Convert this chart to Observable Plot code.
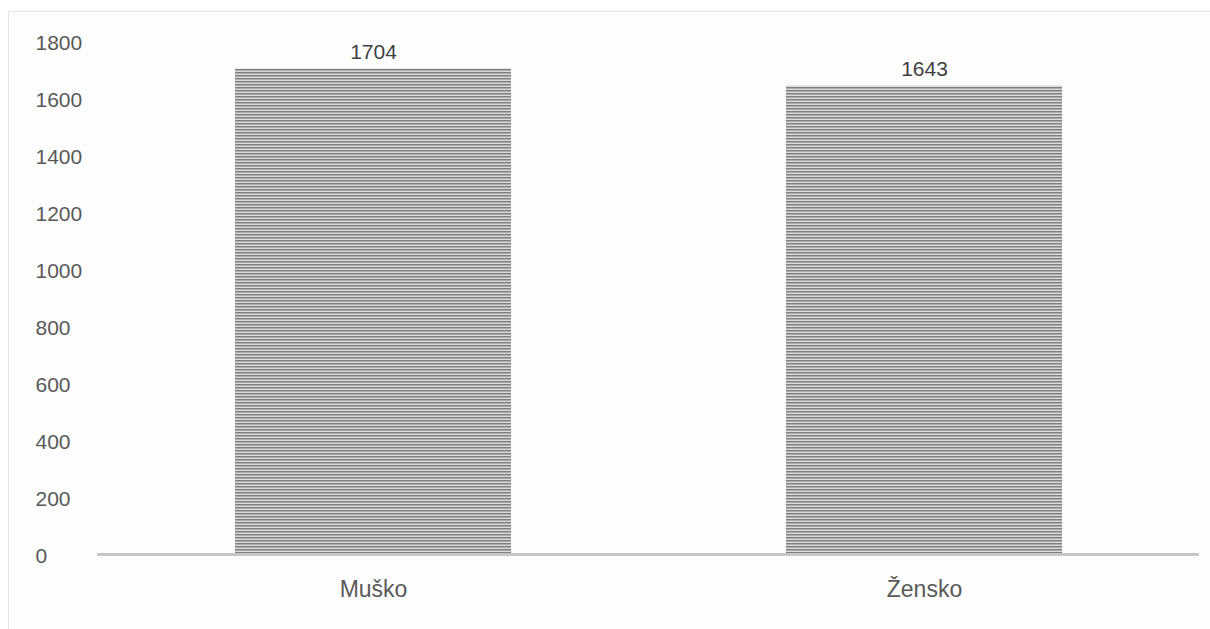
<!DOCTYPE html>
<html>
<head>
<meta charset="utf-8">
<script src="https://cdn.jsdelivr.net/npm/d3@7"></script>
<script src="https://cdn.jsdelivr.net/npm/@observablehq/plot@0.6"></script>
<style>
  html, body { margin: 0; padding: 0; background: #ffffff; }
  #wrap { position: relative; width: 1210px; height: 629px; overflow: hidden; }
  #frame { position: absolute; left: 8px; top: 11px; width: 1210px; height: 640px; border: 1px solid #e4e4e4; background: #fdfdfd; box-sizing: border-box; }
  #chart { position: absolute; left: 0; top: 0; }
</style>
</head>
<body>
<div id="wrap"><div id="frame"></div><div id="chart"></div></div>
<script>
const categories = ["Muško", "Žensko"];
const values = [1704, 1643];
const yTicks = [0, 200, 400, 600, 800, 1000, 1200, 1400, 1600, 1800];

const data = categories.map((c, i) => ({category: c, value: values[i]}));

const font = "'Liberation Sans', sans-serif";

const chart = Plot.plot({
  width: 1210,
  height: 629,
  marginTop: 41,
  marginBottom: 75,
  marginLeft: 97,
  marginRight: 11,
  style: {background: "transparent", fontFamily: font, fontSize: "22px", color: "#595959"},
  x: {domain: categories, paddingInner: 0.5, paddingOuter: 0.25, label: null},
  y: {domain: [0, 1800], label: null},
  marks: [
    Plot.barY(data, {x: "category", y: "value", fill: "url(#hatch)"}),
    Plot.ruleY([0], {stroke: "#c6c6c6", strokeWidth: 3}),
    Plot.text(data, {x: "category", y: "value", text: d => String(d.value), dy: -17, fill: "#404040", fontSize: 21}),
    Plot.axisY({ticks: yTicks, tickFormat: d => String(d), tickSize: 0, tickPadding: 0, textAnchor: "start", dx: -62, dy: 2, fontSize: 21, fill: "#595959", label: null}),
    Plot.axisX({tickSize: 0, tickPadding: 26, fontSize: 23, fill: "#595959", label: null})
  ]
});

// hatch pattern of horizontal lines
const ns = "http://www.w3.org/2000/svg";
const defs = document.createElementNS(ns, "defs");
const pat = document.createElementNS(ns, "pattern");
pat.setAttribute("id", "hatch");
pat.setAttribute("patternUnits", "userSpaceOnUse");
pat.setAttribute("width", "6");
pat.setAttribute("height", "3");
const bg = document.createElementNS(ns, "rect");
bg.setAttribute("width", "6"); bg.setAttribute("height", "3"); bg.setAttribute("fill", "#d9d9d9");
const ln = document.createElementNS(ns, "rect");
ln.setAttribute("y", "0"); ln.setAttribute("width", "6"); ln.setAttribute("height", "1.5"); ln.setAttribute("fill", "#808080");
pat.appendChild(bg); pat.appendChild(ln);
defs.appendChild(pat);
chart.insertBefore(defs, chart.firstChild);

document.getElementById("chart").appendChild(chart);
</script>
</body>
</html>
